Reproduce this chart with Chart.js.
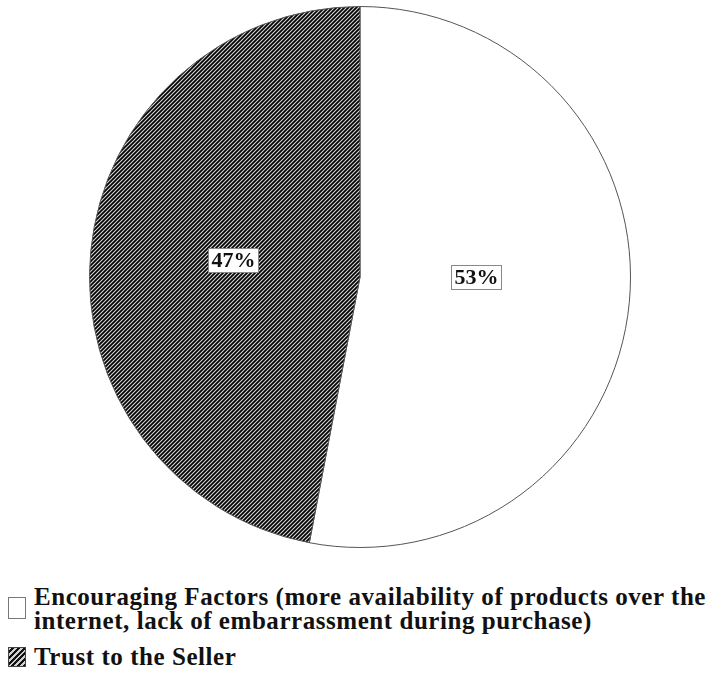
<!DOCTYPE html>
<html>
<head>
<meta charset="utf-8">
<script src="https://cdn.jsdelivr.net/npm/chart.js@4.4.1/dist/chart.umd.min.js"></script>
<style>
    body { margin: 0; background: #fff; width: 710px; height: 675px; overflow: hidden; }
    #wrap { position: relative; width: 710px; height: 556px; }
    #legend { font-family: "Liberation Serif", serif; font-weight: bold; font-size: 25px; color: #111; }
    .item { position: absolute; left: 0; display: flex; align-items: flex-start; }
    .box { width: 18px; height: 22px; margin-left: 8px; margin-right: 8px; border: 1px solid #777; box-sizing: border-box; flex: none; }
    .txt { line-height: 24px; letter-spacing: 0.55px; white-space: nowrap; }
</style>
</head>
<body>
<div id="wrap"><canvas id="pieChart" width="710" height="556"></canvas></div>
<div id="legend"></div>
<script>
// Data
const labels = [
    ['Encouraging Factors (more availability of products over the', 'internet, lack of embarrassment during purchase)'],
    ['Trust to the Seller']
];
const values = [53, 47];
const valueLabels = ['53%', '47%'];

// Hatched fill for the second slice
function makeHatch(size) {
    const c = document.createElement('canvas');
    c.width = size;
    c.height = size;
    const g = c.getContext('2d');
    g.fillStyle = '#d4d4d4';
    g.fillRect(0, 0, size, size);
    g.strokeStyle = '#000';
    g.lineWidth = 1.7;
    g.beginPath();
    g.moveTo(-1, size + 1); g.lineTo(size + 1, -1);
    g.moveTo(-1, 1); g.lineTo(1, -1);
    g.moveTo(size - 1, size + 1); g.lineTo(size + 1, size - 1);
    g.stroke();
    return c;
}

const ctx = document.getElementById('pieChart').getContext('2d');
const hatch = ctx.createPattern(makeHatch(4), 'repeat');

// Boxed percent labels inside each slice (distance as fraction of radius, small angle nudge)
const labelDist = [0.43, 0.475];
const labelTurn = [-0.09, 0.035];
const boxLabels = {
    id: 'boxLabels',
    afterDatasetsDraw(chart) {
        const c = chart.ctx;
        const meta = chart.getDatasetMeta(0);
        c.save();
        c.font = 'bold 22px "Liberation Serif", serif';
        c.textAlign = 'center';
        c.textBaseline = 'middle';
        meta.data.forEach((arc, i) => {
            const mid = (arc.startAngle + arc.endAngle) / 2 + labelTurn[i];
            const r = arc.outerRadius * labelDist[i];
            const x = arc.x + Math.cos(mid) * r;
            const y = arc.y + Math.sin(mid) * r;
            const t = valueLabels[i];
            const w = Math.round(c.measureText(t).width + 6);
            const h = 24;
            const bx = Math.round(x - w / 2) + 0.5;
            const by = Math.round(y - h / 2) + 0.5;
            c.fillStyle = '#fff';
            c.fillRect(bx, by, w, h);
            c.strokeStyle = '#888';
            c.lineWidth = 1;
            c.strokeRect(bx, by, w, h);
            c.fillStyle = '#111';
            c.fillText(t, bx + w / 2, by + h / 2 + 1);
        });
        c.restore();
    }
};

new Chart(ctx, {
    type: 'pie',
    data: {
        labels: labels,
        datasets: [{
            data: values,
            backgroundColor: ['#ffffff', hatch],
            borderColor: '#555',
            borderWidth: 1
        }]
    },
    options: {
        responsive: false,
        animation: false,
        layout: { padding: { left: 10, right: 0, top: 6, bottom: 8 } },
        plugins: {
            legend: { display: false },
            tooltip: { enabled: false }
        }
    },
    plugins: [boxLabels]
});

// Legend below the pie
const legend = document.getElementById('legend');
const swatches = [
    'background:#fff;',
    'background:repeating-linear-gradient(-45deg,#111 0 2px,#d0d0d0 2px 4px);border-color:#444;height:20px;'
];
const tops = [585, 645];
labels.forEach((lines, i) => {
    const item = document.createElement('div');
    item.className = 'item';
    item.style.top = tops[i] + 'px';
    const box = document.createElement('div');
    box.className = 'box';
    box.style.cssText = swatches[i] + 'margin-top:' + (i === 0 ? 12 : 2) + 'px;';
    const txt = document.createElement('div');
    txt.className = 'txt';
    txt.innerHTML = lines.join('<br>');
    item.appendChild(box);
    item.appendChild(txt);
    legend.appendChild(item);
});
</script>
</body>
</html>
